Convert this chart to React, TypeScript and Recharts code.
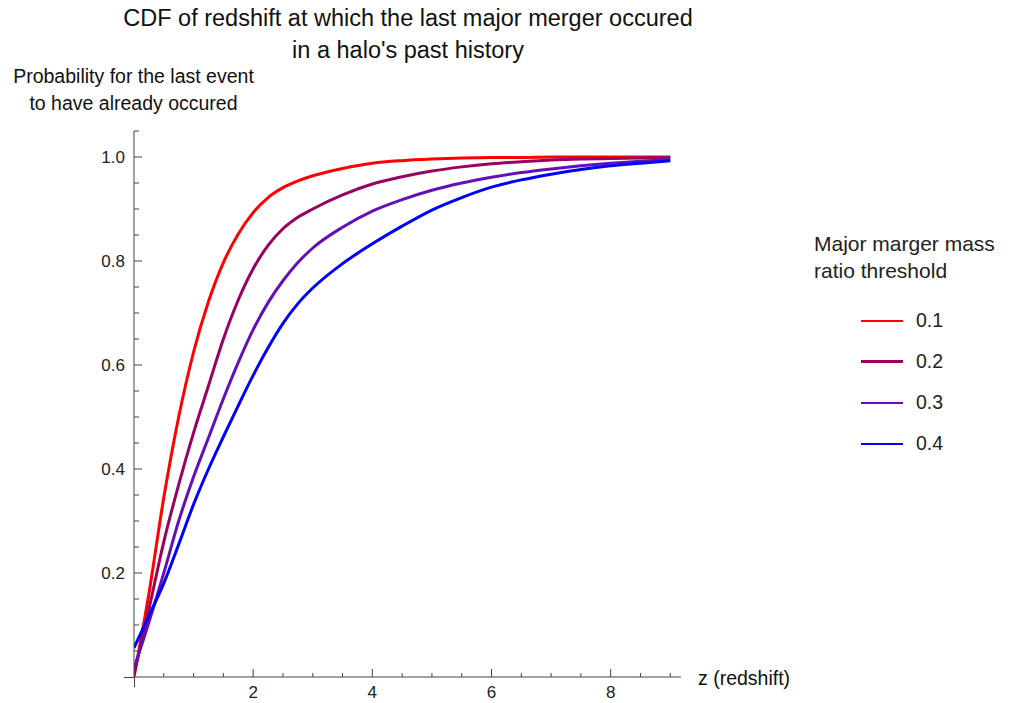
import React from 'react'
import { LineChart, Line, XAxis, YAxis, Legend } from 'recharts'

// redshift grid the CDFs were read at
const zValues = [0, 0.25, 0.5, 0.75, 1, 1.25, 1.5, 1.75, 2, 2.25, 2.5, 2.75, 3, 3.5, 4, 4.5, 5, 5.5, 6, 6.5, 7, 7.5, 8, 8.5, 9]

// CDF per mass ratio threshold
const cdf01 = [0.0, 0.16, 0.345, 0.5, 0.625, 0.722, 0.797, 0.852, 0.893, 0.922, 0.941, 0.954, 0.964, 0.978, 0.988, 0.993, 0.996, 0.998, 0.999, 0.999, 1.0, 1.0, 1.0, 1.0, 1.0]
const cdf02 = [0.005, 0.13, 0.26, 0.37, 0.47, 0.56, 0.65, 0.725, 0.785, 0.83, 0.862, 0.884, 0.9, 0.927, 0.948, 0.962, 0.973, 0.981, 0.987, 0.991, 0.994, 0.996, 0.997, 0.998, 0.999]
const cdf03 = [0.017, 0.105, 0.2, 0.3, 0.385, 0.46, 0.535, 0.605, 0.668, 0.72, 0.762, 0.797, 0.825, 0.865, 0.896, 0.918, 0.936, 0.95, 0.961, 0.97, 0.977, 0.983, 0.988, 0.992, 0.995]
const cdf04 = [0.056, 0.118, 0.18, 0.255, 0.332, 0.4, 0.462, 0.522, 0.58, 0.633, 0.68, 0.718, 0.748, 0.795, 0.833, 0.867, 0.898, 0.922, 0.942, 0.956, 0.967, 0.976, 0.983, 0.988, 0.993]

const xTicks = [0.5, 1, 1.5, 2, 2.5, 3, 3.5, 4, 4.5, 5, 5.5, 6, 6.5, 7, 7.5, 8, 8.5, 9]
const xLabels = [2, 4, 6, 8]
const yTicks = [0.05, 0.1, 0.15, 0.2, 0.25, 0.3, 0.35, 0.4, 0.45, 0.5, 0.55, 0.6, 0.65, 0.7, 0.75, 0.8, 0.85, 0.9, 0.95, 1.0, 1.05]
const yLabels = [0.2, 0.4, 0.6, 0.8, 1.0]

const series = [
  { key: 'r01', name: '0.1', color: '#ff0000', legendWidth: 2 },
  { key: 'r02', name: '0.2', color: '#990060', legendWidth: 3 },
  { key: 'r03', name: '0.3', color: '#6410b8', legendWidth: 2 },
  { key: 'r04', name: '0.4', color: '#0000ff', legendWidth: 2 },
]

const data = zValues.map((z, i) => ({
  z,
  r01: cdf01[i],
  r02: cdf02[i],
  r03: cdf03[i],
  r04: cdf04[i],
}))

const FONT = '"Liberation Sans", Arial, Helvetica, sans-serif'
const AXIS = '#444'

function isLabel(list: number[], v: number) {
  return list.some((l) => Math.abs(l - v) < 1e-6)
}

function XTick(props: any) {
  const { x, y, payload } = props
  const major = isLabel(xLabels, payload.value)
  return (
    <g>
      <line x1={x} y1={y} x2={x} y2={y - (major ? 8 : 4)} stroke={AXIS} strokeWidth={1} />
      {major && (
        <text x={x} y={y + 15} textAnchor="middle" dominantBaseline="central" fontSize={17} fill="#222" fontFamily={FONT}>
          {payload.value}
        </text>
      )}
    </g>
  )
}

function YTick(props: any) {
  const { x, y, payload } = props
  const major = isLabel(yLabels, payload.value)
  return (
    <g>
      <line x1={x} y1={y} x2={x + (major ? 8 : 5)} y2={y} stroke={AXIS} strokeWidth={1} />
      {major && (
        <text x={x - 9} y={y} textAnchor="end" dominantBaseline="central" fontSize={17} fill="#222" fontFamily={FONT}>
          {payload.value.toFixed(1)}
        </text>
      )}
    </g>
  )
}

function MassLegend() {
  return (
    <div style={{ fontFamily: FONT, color: '#222' }}>
      <div style={{ fontSize: 21, lineHeight: '27px', marginBottom: 16 }}>
        Major marger mass
        <br />
        ratio threshold
      </div>
      {series.map((s) => (
        <div key={s.key} style={{ display: 'flex', alignItems: 'center', height: 41, marginLeft: 47 }}>
          <div style={{ width: 42, height: s.legendWidth, background: s.color, marginRight: 13 }} />
          <span style={{ fontSize: 19.5 }}>{s.name}</span>
        </div>
      ))}
    </div>
  )
}

export default function App() {
  return (
    <div style={{ position: 'absolute', left: 0, top: 0, width: 1017, height: 703, background: '#fff', fontFamily: FONT }}>
      <div style={{ position: 'absolute', left: 108, top: 2, width: 600, textAlign: 'center', fontSize: 23.5, lineHeight: '32px', color: '#111' }}>
        CDF of redshift at which the last major merger occured
        <br />
        in a halo's past history
      </div>
      <div style={{ position: 'absolute', left: 0, top: 63, width: 267, textAlign: 'center', fontSize: 19.5, lineHeight: '27px', color: '#111' }}>
        Probability for the last event
        <br />
        to have already occured
      </div>
      <div style={{ position: 'absolute', left: 698, top: 666, fontSize: 19.5, lineHeight: '24px', color: '#111' }}>z (redshift)</div>

      <LineChart width={1017} height={703} data={data} margin={{ top: 131, right: 336, bottom: 6, left: 74 }}>
        <XAxis
          dataKey="z"
          type="number"
          domain={[0, 9.18]}
          ticks={xTicks}
          interval={0}
          tick={<XTick />}
          tickLine={false}
          tickSize={0}
          tickMargin={0}
          height={20}
          axisLine={{ stroke: AXIS, strokeWidth: 1 }}
          allowDataOverflow
        />
        <YAxis
          type="number"
          domain={[0, 1.05]}
          ticks={yTicks}
          interval={0}
          tick={<YTick />}
          tickLine={false}
          tickSize={0}
          tickMargin={0}
          width={60}
          axisLine={{ stroke: AXIS, strokeWidth: 1 }}
          allowDataOverflow
        />
        <Legend
          layout="vertical"
          align="center"
          verticalAlign="middle"
          content={<MassLegend />}
          wrapperStyle={{ left: 814, top: 230, width: 200 }}
        />
        {series.map((s) => (
          <Line
            key={s.key}
            type="monotone"
            dataKey={s.key}
            name={s.name}
            stroke={s.color}
            strokeWidth={3}
            dot={false}
            isAnimationActive={false}
          />
        ))}
      </LineChart>

      {/* small axis overhangs past the origin, as in the original */}
      <div style={{ position: 'absolute', left: 124, top: 677, width: 10, height: 1, background: AXIS }} />
      <div style={{ position: 'absolute', left: 134, top: 677, width: 1, height: 10, background: AXIS }} />
    </div>
  )
}
